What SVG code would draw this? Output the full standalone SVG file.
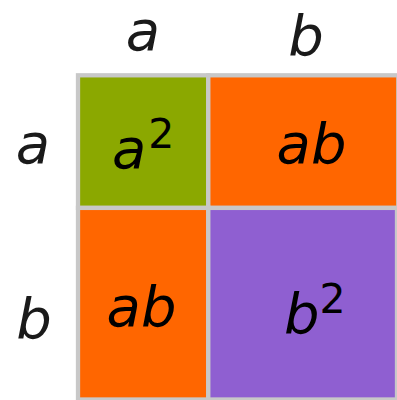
<svg xmlns="http://www.w3.org/2000/svg" width="397" height="400" viewBox="0 0 397 400">
<style>
.cell{stroke:#c8c8c8;stroke-width:4.3}
.t{font-family:"DejaVu Sans",sans-serif;font-style:italic;font-size:56px;fill:#000}
.lbl{fill:#1a1a1a}
.sup{font-style:normal;font-size:41px}
</style>
<rect width="397" height="400" fill="#ffffff"/>
<g id="label-top-a"><text class="t lbl" x="143" y="50" text-anchor="middle">a</text></g>
<g id="label-top-b"><text class="t lbl" x="306" y="55" text-anchor="middle">b</text></g>
<g id="label-left-a"><text class="t lbl" x="33" y="163" text-anchor="middle">a</text></g>
<g id="label-left-b"><text class="t lbl" x="34" y="338" text-anchor="middle">b</text></g>
<g id="cell-a2">
<rect class="cell" x="78" y="75.3" width="130.3" height="132.6" fill="#8ba800"/>
<text class="t" x="112" y="168">a<tspan class="sup" dx="2" dy="-20">2</tspan></text>
</g>
<g id="cell-ab-top">
<rect class="cell" x="208.3" y="75.3" width="190" height="132.6" fill="#ff6600"/>
<text class="t" x="311.5" y="163.3" text-anchor="middle">ab</text>
</g>
<g id="cell-ab-left">
<rect class="cell" x="78" y="207.9" width="130.3" height="191.6" fill="#ff6600"/>
<text class="t" x="141.5" y="326" text-anchor="middle">ab</text>
</g>
<g id="cell-b2">
<rect class="cell" x="208.3" y="207.9" width="188.7" height="191.6" fill="#8f5fd1"/>
<text class="t" x="284" y="333">b<tspan class="sup" dx="0" dy="-20">2</tspan></text>
</g>
<g id="connectors"></g>
</svg>
